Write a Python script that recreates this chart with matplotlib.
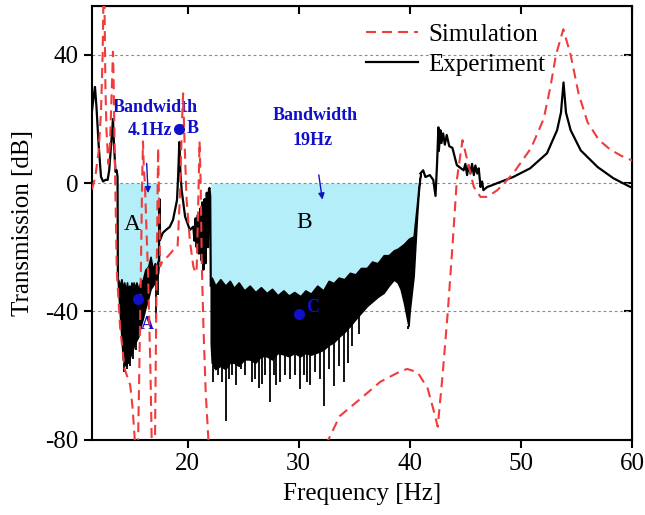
import numpy as np
import matplotlib
matplotlib.use('Agg')
import matplotlib.pyplot as plt

plt.rcParams['font.family'] = ['Liberation Serif', 'DejaVu Serif']
plt.rcParams['axes.unicode_minus'] = False

# Experiment: smooth stretches of the measured transmission
exp_head_freq = [11.40, 11.55, 11.67, 11.80, 12.00, 12.21, 12.40, 12.61, 12.81, 12.95, 13.10, 13.29, 13.38, 13.52, 13.62, 13.70, 13.73]
exp_head_db = [22.5, 27.0, 30.0, 24.0, 12.0, 2.0, 0.5, 1.0, 1.0, 4.0, 11.0, 20.0, 12.0, 3.5, 4.0, 2.0, -30.0]

exp_mid_freq = [17.43, 17.48, 17.53, 17.78, 18.09, 18.39, 18.69, 19.05, 19.15, 19.26, 19.36, 19.47, 19.78, 20.21, 20.52,
                20.62, 20.72, 20.82, 20.92, 21.02, 21.13, 21.23, 21.33, 21.43, 21.53, 21.63, 21.73, 21.84, 21.92, 21.97, 22.04, 22.09]
exp_mid_db = [-22.0, -5.0, -17.7, -15.5, -14.5, -13.7, -11.5, -5.3, 2.0, 12.8, 3.0, -2.2, -10.5, -14.6, -13.6,
              -18.0, -11.0, -20.0, -10.0, -22.0, -8.0, -24.0, -6.0, -27.0, -5.0, -25.0, -3.0, -20.0, -2.0, -1.5, -4.0, -32.0]

exp_tail_freq = [40.95, 41.20, 41.40, 41.80, 42.11, 42.31, 42.45, 42.57, 42.61, 42.75, 42.85, 43.00, 43.15, 43.32, 43.55, 43.83,
                 44.23, 44.84, 45.00, 45.15, 45.30, 45.45, 45.60, 45.76, 45.90, 46.06, 46.20, 46.36, 46.50, 46.62, 46.97,
                 47.30, 47.88, 49.30, 50.82, 52.34, 53.25, 53.60, 53.83, 54.05, 54.47, 55.38, 56.90, 58.32, 59.84, 60.04]
exp_tail_db = [3.0, 4.0, 1.9, 2.5, 1.0, -4.0, 6.0, 17.4, 10.0, 16.5, 12.5, 15.5, 12.0, 15.0, 11.5, 11.0,
               5.6, 4.0, 6.0, 2.5, 5.5, 3.0, 6.0, 2.5, 5.5, 3.0, 4.6, -1.2, 0.5, -2.2, -1.2,
               -0.8, 0.0, 1.9, 4.6, 9.3, 16.5, 22.0, 31.4, 22.0, 16.5, 10.2, 5.0, 1.5, -1.2, -1.4]

# Experiment inside the band gaps: dense fluctuation between an upper and lower envelope
gapA_freq = [13.73, 13.89, 14.05, 14.18, 14.30, 14.44, 14.55, 14.64, 14.75, 14.84, 14.95, 15.05, 15.15, 15.25, 15.40,
             15.55, 15.75, 15.99, 16.20, 16.46, 16.67, 16.87, 17.05, 17.17, 17.35, 17.43]
gapA_upper = [-30, -32, -30, -33, -31, -34, -31, -34, -32, -34, -31, -33, -31, -33, -31,
              -33, -31, -30, -27, -26, -23, -27, -25, -26, -24, -22]
gapA_lower = [-31, -40, -48, -55, -56, -57, -56, -56, -55, -54, -53, -52, -51, -50, -49,
              -48, -45, -42, -39, -36, -33, -32, -31, -30, -28, -24]
gapA_spike_freq = [14.30, 14.55, 14.80, 15.10, 15.40, 17.17, 17.30]
gapA_spike_db = [-59, -58, -57, -55, -52, -42.5, -35]

gapB_freq = [22.09, 22.18, 22.50, 22.95, 23.40, 23.80, 24.17, 24.60, 25.10, 25.59, 26.10, 26.60, 27.11, 27.60, 28.10,
             28.63, 29.10, 29.60, 30.15, 30.60, 31.10, 31.67, 32.20, 32.70, 33.14, 33.60, 34.10, 34.61, 35.10, 35.60,
             36.13, 36.60, 37.10, 37.65, 38.10, 38.56, 38.90, 39.17, 39.47, 39.88, 39.98, 40.34, 40.65, 40.79, 40.95]
gapB_upper = [-31.0, -29.5, -32.0, -30.0, -32.0, -30.5, -32.7, -31.0, -33.5, -32.0, -34.0, -32.5, -34.3, -33.0, -35.0,
              -33.5, -35.1, -34.0, -35.3, -33.5, -34.5, -32.0, -33.5, -30.5, -31.2, -29.5, -30.0, -28.0, -28.5, -26.5,
              -26.5, -24.5, -25.0, -22.5, -22.5, -21.0, -20.5, -19.8, -19.0, -17.5, -17.2, -16.7, -6.3, -1.0, 3.0]
gapB_lower = [-50.0, -56.0, -58.0, -57.0, -58.0, -56.0, -56.0, -57.0, -55.0, -55.0, -56.0, -54.0, -54.0, -55.0, -53.0,
              -53.4, -54.0, -53.0, -54.0, -53.0, -53.5, -52.8, -52.0, -50.5, -49.7, -48.0, -46.5, -44.6, -42.5, -40.5,
              -38.4, -37.0, -35.5, -34.2, -32.0, -30.1, -31.0, -33.0, -37.3, -44.6, -40.0, -29.0, -10.0, -3.0, 2.5]
gapB_spike_freq = [22.30, 22.44, 22.70, 23.10, 23.46, 23.70, 23.96, 24.40, 24.78, 25.20, 25.80, 26.10, 26.40, 26.70,
                   27.00, 27.41, 27.80, 28.00, 28.32, 28.80, 29.23, 29.70, 30.15, 30.45, 30.76, 31.00, 31.46, 31.90,
                   32.28, 32.70, 33.14, 33.60, 34.10, 34.40, 34.81, 35.40, 39.88]
gapB_spike_db = [-62, -58, -60, -62, -74.1, -61, -60, -63, -58, -60, -62, -61, -64, -62.7,
                 -60, -68.4, -60, -63, -62.2, -60, -61.2, -60, -64.3, -60, -62, -63, -59, -61,
                 -69.5, -58, -63.3, -57, -62.2, -56, -50.8, -47, -45.5]

# Simulation
sim_freq = [11.40, 11.70, 12.00, 12.21, 12.36, 12.48, 12.61, 12.71, 12.87, 13.02, 13.17, 13.29, 13.35, 13.42, 13.52,
            13.63, 13.93, 14.34, 14.64, 14.84, 15.05, 15.25, 15.45, 15.65, 15.81, 15.91, 15.99, 16.06, 16.16, 16.46,
            16.67, 16.87, 17.07, 17.17, 17.28, 17.35, 17.43, 17.53, 17.78, 18.19, 18.69, 19.10, 19.30, 19.51, 19.60,
            19.71, 19.91, 20.21, 20.52, 20.72, 20.82, 20.97, 21.08, 21.18, 21.28, 21.43, 21.63, 21.84, 22.04, 24.78,
            27.50, 30.00, 32.68, 33.69, 35.52, 37.34, 39.17, 39.77, 40.69, 41.60, 42.11, 42.51, 42.92, 43.42, 43.83,
            44.23, 44.74, 45.25, 45.76, 46.36, 46.97, 47.88, 49.30, 50.92, 52.04, 52.65, 53.15, 53.81, 54.47, 55.18,
            55.99, 57.00, 58.02, 59.03, 60.04]
sim_db = [-2, 2, 10, 22, 40, 70, 30, 16, 6, 12, 28, 41, 32, 15, -5,
          -27, -45, -58, -61, -63, -70, -80, -100, -60, -25, 0, 13, 5, 0, -30,
          -60, -100, -80, -45, -10, 11, -5, -26, -24, -23, -21, -20, -5, 20, 28,
          15, -5, -18, -26, -28, -27, -5, 13, 0, -25, -45, -65, -78, -90, -100,
          -98, -92, -80, -72.7, -67.4, -62, -58.7, -58, -59, -64, -70.5, -76, -61, -40, -20,
          1, 13.4, 6, -1.2, -4.3, -4.3, -2.2, 3, 11, 20, 30, 40, 48, 40, 28,
          19, 13.5, 10.5, 8.5, 7]

band_color = '#b3eef9'
note_blue = '#1010c8'

fig = plt.figure(figsize=(6.45, 5.15), dpi=100)
ax = fig.add_axes([0.1426, 0.1466, 0.8374, 0.8414])

# shaded band gaps between 0 dB and the measured curve
ax.fill_between(gapA_freq, np.minimum(gapA_upper, 0), 0, color=band_color, lw=0, zorder=1)
ax.fill_between(gapB_freq, np.minimum(gapB_upper, 0), 0, color=band_color, lw=0, zorder=1)

for y in (40, 0, -40):
    ax.axhline(y, color='#8a8a8a', lw=0.8, ls=(0, (2.5, 2.5)), zorder=2)

# experiment
ax.plot(exp_head_freq, exp_head_db, color='black', lw=1.6, zorder=3)
ax.plot(exp_mid_freq, exp_mid_db, color='black', lw=1.6, zorder=3)
ax.plot(exp_tail_freq, exp_tail_db, color='black', lw=1.6, zorder=3)
ax.fill_between(gapA_freq, gapA_lower, gapA_upper, color='black', lw=1.2, zorder=3)
ax.fill_between(gapB_freq, gapB_lower, gapB_upper, color='black', lw=1.2, zorder=3)
ax.vlines(gapA_spike_freq, gapA_spike_db, np.interp(gapA_spike_freq, gapA_freq, gapA_lower), color='black', lw=1.3, zorder=3)
ax.vlines(gapB_spike_freq, gapB_spike_db, np.interp(gapB_spike_freq, gapB_freq, gapB_lower), color='black', lw=1.3, zorder=3)
ax.plot([], [], color='black', lw=1.6, label='Experiment')

# simulation
ax.plot(sim_freq, sim_db, color='#f03c3c', lw=1.5, dashes=(4.8, 2.9), zorder=4, label='Simulation')

handles, labels = ax.get_legend_handles_labels()
ax.legend(handles[::-1], labels[::-1], loc='upper left', bbox_to_anchor=(0.465, 1.012), frameon=False,
          fontsize=18, handlelength=2.1, labelspacing=0.3, handletextpad=0.4)

# annotations
ax.text(17.13, 23.6, 'Bandwidth', color=note_blue, fontsize=13, fontweight='bold', ha='center', va='center')
ax.text(16.62, 16.5, '4.1Hz', color=note_blue, fontsize=13, fontweight='bold', ha='center', va='center')
ax.text(31.46, 21.0, 'Bandwidth', color=note_blue, fontsize=13, fontweight='bold', ha='center', va='center')
ax.text(31.26, 13.4, '19Hz', color=note_blue, fontsize=13, fontweight='bold', ha='center', va='center')
ax.annotate('', xy=(16.46, -4), xytext=(16.31, 7),
            arrowprops=dict(arrowstyle='-|>', color=note_blue, lw=1, mutation_scale=9))
ax.annotate('', xy=(32.17, -6), xytext=(31.77, 3.4),
            arrowprops=dict(arrowstyle='-|>', color=note_blue, lw=1, mutation_scale=9))
ax.text(15.05, -13, 'A', fontsize=17, ha='center', va='center')
ax.text(30.50, -12.4, 'B', fontsize=17, ha='center', va='center')

point_freq = [19.23, 15.55, 30.05]
point_db = [17.0, -36.3, -40.7]
ax.plot(point_freq, point_db, 'o', color=note_blue, ms=7, zorder=5)
ax.text(20.45, 17.0, 'B', color=note_blue, fontsize=13, fontweight='bold', ha='center', va='center')
ax.text(16.36, -44.0, 'A', color=note_blue, fontsize=13, fontweight='bold', ha='center', va='center')
ax.text(31.26, -38.8, 'C', color=note_blue, fontsize=13, fontweight='bold', ha='center', va='center')

# axes
ax.set_xlim(11.4, 60)
ax.set_ylim(-80, 55.2)
ax.set_xticks([20, 30, 40, 50, 60])
ax.set_yticks([-80, -40, 0, 40])
ax.set_xlabel('Frequency [Hz]', fontsize=18, labelpad=6)
ax.set_ylabel('Transmission [dB]', fontsize=18, labelpad=8)
ax.tick_params(axis='both', direction='out', length=6, width=1.5, labelsize=18)
for s in ax.spines.values():
    s.set_linewidth(1.5)

top = ax.secondary_xaxis('top')
top.set_xticks([20, 30, 40, 50, 60])
top.tick_params(direction='in', length=6, width=1.5, labeltop=False)
right = ax.secondary_yaxis('right')
right.set_yticks([-80, -40, 0, 40])
right.tick_params(direction='in', length=6, width=1.5, labelright=False)

fig.savefig('out.png', dpi=100)
